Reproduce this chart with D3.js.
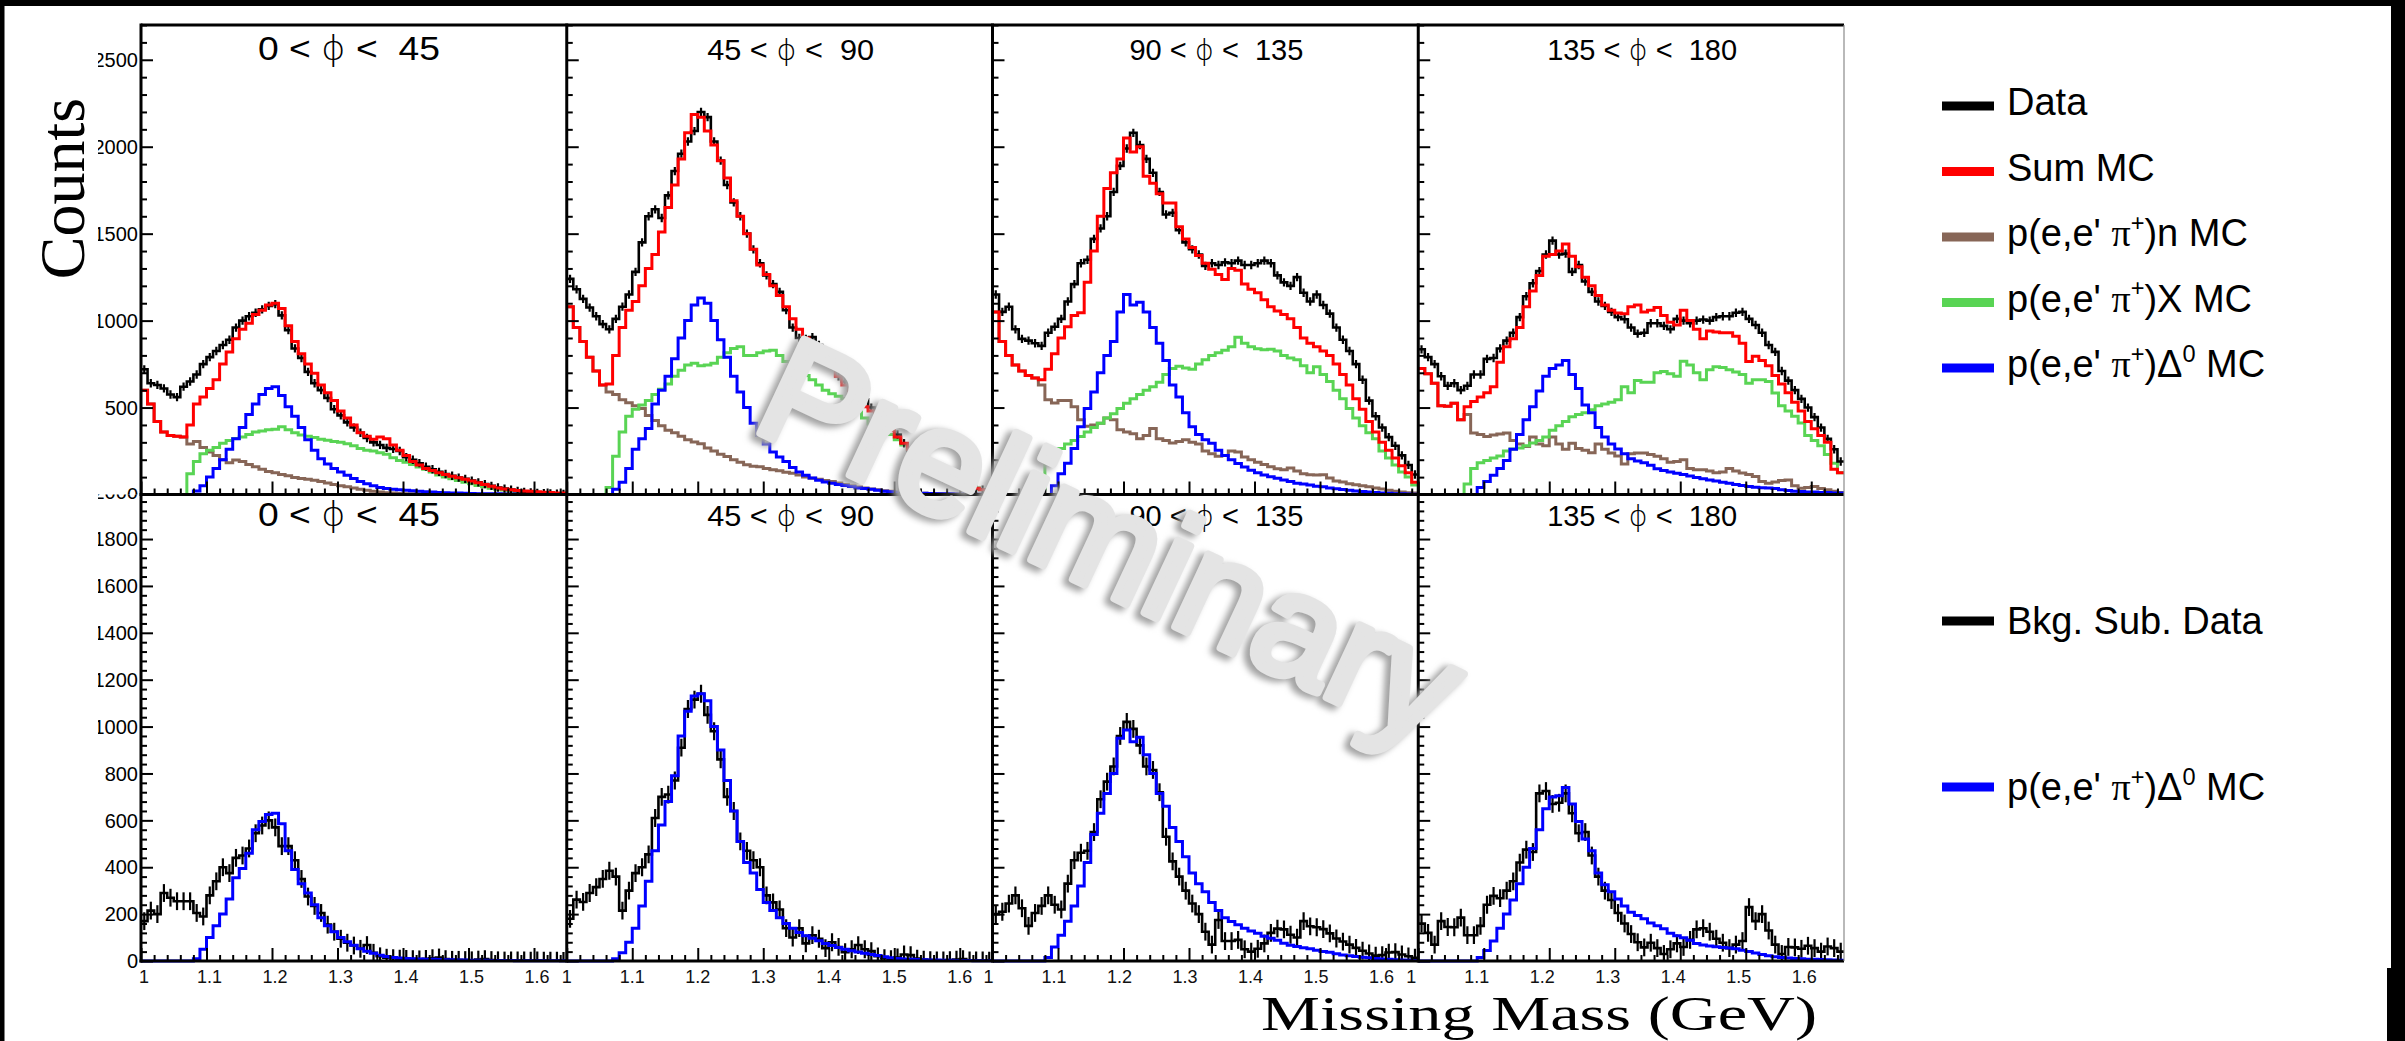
<!DOCTYPE html>
<html><head><meta charset="utf-8"><title>Missing mass in phi bins</title>
<script src="https://cdn.jsdelivr.net/npm/d3@7/dist/d3.min.js"></script>
<style>html,body{margin:0;padding:0;background:#fff;overflow:hidden}svg{display:block}text{white-space:pre}</style>
</head><body><svg id="chart" width="2405" height="1041"></svg>
<script>
// ---------------- DATA ----------------
const binLo = 1.0, binWidth = 0.01;          // 65 bins, 1.00 .. 1.65 GeV
const xDomain = [1.0, 1.65];
const yMaxTop = 2700, yMaxBottom = 1990;
const yTickLabelsTop = [0, 500, 1000, 1500, 2000, 2500];
const yTickLabelsBottom = [0, 200, 400, 600, 800, 1000, 1200, 1400, 1600, 1800, 2000];
const xTickLabels = [1, 1.1, 1.2, 1.3, 1.4, 1.5, 1.6];
const phiBins = [["0", "45"], ["45", "90"], ["90", "135"], ["135", "180"]];
const errTop = 24, errBottom = 38;

// Top row: Data
const dataTop = [
 [720,640,630,610,575,560,620,650,690,750, 790,825,860,890,960,1000,1025,1045,1065,1085, 1095,1030,945,840,785,705,640,600,555,490, 455,415,385,355,325,300,285,268,262,250, 215,200,180,160,145,130,118,108,97,90, 80,70,60,50,40,34,28,20,15,12, 9,8,6,5,4],
 [1240,1180,1125,1075,1025,980,950,1010,1080,1150, 1280,1450,1600,1640,1590,1720,1860,1960,2030,2090, 2200,2170,2030,1920,1780,1680,1600,1500,1410,1330, 1260,1210,1165,1060,960,900,895,905,860,815, 740,680,650,625,590,548,500,445,420,395, 345,295,250,215,175,150,125,95,78,62, 50,40,32,28,22],
 [1150,1050,1080,950,895,885,870,855,930,965, 1010,1110,1210,1330,1350,1470,1530,1600,1740,1890, 1990,2080,2010,1930,1850,1740,1610,1620,1520,1450, 1410,1380,1315,1330,1320,1335,1330,1345,1320,1320, 1330,1345,1330,1260,1220,1200,1250,1160,1110,1150, 1090,1040,960,890,825,750,660,540,450,385, 330,280,225,170,115],
 [835,790,750,680,625,640,600,625,690,690, 780,785,840,885,930,1020,1140,1215,1285,1380, 1460,1380,1385,1280,1320,1225,1165,1110,1085,1050, 1020,1008,960,925,930,985,985,970,950,1010, 1000,985,1000,1006,1000,1020,1025,1025,1045,1050, 1010,975,930,860,820,710,655,600,550,500, 445,385,320,260,190]
];
// Top row: Sum MC
const sumTop = [
 [600,520,420,360,340,335,330,400,520,560, 610,660,750,820,895,950,985,1035,1060,1090, 1100,1070,970,880,810,750,698,630,585,540, 480,440,400,355,335,318,330,320,285,255, 225,190,170,150,138,125,115,105,96,88, 78,68,58,48,38,32,27,23,20,18, 16,13,11,9,8],
 [1080,960,880,790,710,630,635,800,960,1060, 1110,1200,1300,1380,1510,1650,1780,1930,2080,2185, 2170,2090,2010,1920,1820,1690,1600,1500,1410,1320, 1265,1200,1145,1080,1010,950,900,850,825,800, 740,680,630,575,540,505,480,445,410,370, 330,295,260,228,195,165,138,112,95,78, 62,48,36,27,20],
 [1050,880,800,745,710,685,670,660,720,810, 900,965,1030,1045,1220,1400,1600,1760,1850,1930, 2050,1970,2000,1830,1790,1730,1677,1677,1540,1470, 1420,1375,1330,1295,1265,1236,1300,1290,1210,1180, 1160,1120,1080,1055,1035,1010,960,900,870,850, 825,800,750,690,630,550,490,420,360,300, 255,210,165,125,70],
 [725,695,640,510,507,525,430,505,535,560, 585,620,760,850,895,960,1080,1170,1260,1370, 1380,1400,1440,1370,1310,1250,1200,1145,1090,1060, 1044,1040,1080,1090,1050,1060,1075,1030,990,975, 1060,1000,950,895,940,935,930,930,910,870, 765,795,770,740,685,635,585,530,480,420, 378,340,300,145,125]
];
// Top row: p(e,e' pi+)n MC
const nTop = [
 [600,520,420,360,340,335,330,290,305,270, 245,225,200,182,198,190,172,160,145,132, 125,115,108,98,92,88,82,75,66,58, 50,44,37,30,24,18,14,10,8,6, 5,4,3,3,2,2,2,2,1,1, 1,1,1,1,1,1,1,1,1,1, 1,1,1,1,1],
 [1080,960,880,790,710,630,590,575,545,528, 510,495,455,425,395,370,355,335,315,302, 292,268,250,232,218,200,185,171,163,160, 150,142,136,128,122,112,100,94,88,80, 75,66,58,50,43,38,32,27,22,18, 15,12,10,8,7,6,5,4,3,3, 2,2,2,1,1],
 [1050,880,800,745,710,685,670,630,545,526, 540,540,505,430,392,400,410,440,430,372, 360,350,320,340,380,320,310,296,305,315, 300,290,250,235,220,225,250,245,215,200, 185,172,160,148,142,152,135,120,113,112, 113,95,78,72,62,56,50,44,38,32, 25,18,14,10,8],
 [725,695,640,510,507,525,430,460,353,345, 334,342,348,353,310,290,276,330,290,280, 330,290,260,295,265,255,240,290,260,238, 222,175,235,238,238,230,220,205,185,190, 200,150,142,142,135,125,130,150,135,123, 115,104,75,65,72,80,84,50,36,40, 46,35,27,18,12]
];
// Top row: p(e,e' pi+)X MC
const xTop = [
 [0,0,0,0,0,0,0,120,190,235, 255,270,295,310,322,330,345,360,365,372, 375,390,372,355,342,335,328,318,312,305, 300,292,280,265,255,250,240,232,212,196, 185,172,158,145,130,112,100,90,80,70, 62,52,44,36,30,26,22,18,14,10, 8,6,4,3,2],
 [0,0,0,0,0,0,40,220,360,450, 490,515,540,575,605,635,680,715,745,755, 740,745,755,790,815,840,850,800,800,815, 825,830,800,765,735,710,685,660,630,600, 580,565,550,535,490,440,405,385,362,345, 315,285,260,228,195,165,138,112,95,78, 65,50,38,28,20],
 [0,0,0,0,0,0,0,30,190,240, 265,290,310,334,360,385,410,440,465,495, 525,550,575,600,620,645,690,725,737,728, 720,750,775,800,815,830,850,905,870,850, 838,833,835,825,800,785,775,740,700,735, 690,650,600,550,495,440,395,355,320,250, 210,170,130,100,55],
 [0,0,0,0,0,0,0,60,150,182, 196,210,222,250,262,268,280,296,310,330, 370,395,420,447,460,470,487,510,520,530, 545,620,585,655,645,645,700,708,695,680, 766,745,700,660,718,735,730,718,705,690, 640,660,660,650,583,510,480,450,411,340, 310,280,230,180,125]
];
// Top row: p(e,e' pi+)Delta0 MC
const deltaTop = [
 [0,0,0,0,0,0,0,0,20,50, 100,150,200,260,320,385,460,520,575,610, 620,570,505,450,385,315,255,205,175,150, 130,110,92,75,62,50,40,35,30,27, 24,21,18,16,14,12,10,9,8,7, 6,5,5,4,4,3,3,3,2,2, 2,2,1,1,1],
 [0,0,0,0,0,0,0,30,70,150, 260,320,380,520,600,680,780,900,1000,1090, 1130,1100,1000,890,790,680,590,500,410,340, 290,245,215,190,155,130,110,95,82,72, 65,58,52,46,38,34,30,24,19,16, 13,11,9,8,7,6,5,4,4,3, 3,2,2,2,1],
 [0,0,0,0,0,0,0,0,0,50, 120,180,265,390,495,590,700,800,880,1050, 1150,1090,1105,1050,960,870,770,630,560,470, 390,345,315,295,255,225,200,178,158,140, 125,112,102,94,84,75,65,60,54,48, 44,38,33,29,25,20,17,14,12,9, 7,5,4,3,2],
 [0,0,0,0,0,0,0,0,0,40, 75,110,150,195,260,345,430,505,595,680, 725,745,770,690,610,515,470,385,330,290, 262,235,205,192,182,168,148,138,130,122, 115,106,98,90,84,78,70,65,58,52, 46,42,39,37,34,28,23,19,17,15, 14,12,11,9,8]
];
// Bottom row: Bkg. Sub. Data
const dataBottom = [
 [170,215,200,290,270,255,255,255,205,190, 280,340,400,375,440,450,480,545,578,600, 570,490,490,430,350,275,235,205,155,125, 95,78,66,52,68,35,20,14,12,10, 9,8,7,9,12,15,8,5,5,4, 3,6,8,4,3,2,3,2,2,1, 2,1,1,1,0],
 [180,262,252,290,315,350,385,360,215,300, 375,400,455,610,700,710,770,910,1075,1115, 1140,1050,980,860,700,640,510,470,430,400, 280,250,220,140,100,140,75,110,95,55, 80,60,38,50,68,50,42,20,12,8, 15,28,25,10,6,4,3,3,4,6, 8,3,2,2,1],
 [200,210,245,280,225,150,205,235,280,240, 220,330,430,462,470,550,690,765,830,960, 1020,990,920,830,815,720,530,425,360,300, 245,200,125,70,175,85,85,90,50,40, 52,75,120,138,135,112,100,170,148,144, 136,118,96,83,70,56,44,32,23,25, 36,38,28,20,14],
 [160,120,70,170,145,144,185,110,110,150, 240,278,268,300,340,420,475,465,715,725, 670,675,715,630,545,550,450,360,300,260, 205,160,115,80,58,78,55,30,50,75, 60,90,135,140,125,95,78,55,70,85, 230,170,200,130,70,30,60,58,52,65, 55,40,62,55,40]
];
// Bottom row: p(e,e' pi+)Delta0 MC
const deltaBottom = [
 [0,0,0,0,0,0,0,0,10,50, 100,150,200,265,355,395,460,560,595,625, 630,585,470,390,330,290,240,185,150,125, 100,82,67,52,42,33,25,19,15,13, 11,10,9,8,7,6,5,5,4,4, 3,3,3,2,2,2,2,1,1,1, 1,1,1,1,1],
 [0,0,0,0,0,0,0,10,35,80, 140,235,340,470,580,680,790,960,1065,1130, 1140,1110,1000,900,770,640,510,420,375,305, 250,215,185,160,140,122,108,97,86,75, 66,58,50,44,38,33,28,23,18,14, 11,9,7,6,5,4,4,3,3,2, 2,2,1,1,1],
 [0,0,0,0,0,0,0,0,15,60, 110,170,235,320,420,540,630,715,800,950, 985,935,955,880,800,715,660,570,510,445, 375,330,295,250,215,185,168,155,140,128, 118,106,97,88,76,67,62,56,52,46, 41,37,31,26,22,19,16,14,11,9, 7,5,4,3,2],
 [0,0,0,0,0,0,0,0,0,15, 45,85,140,200,260,330,400,480,560,650, 700,705,740,670,595,520,470,375,325,295, 265,235,208,194,180,162,150,138,118,108, 99,88,75,68,64,61,58,55,52,46, 40,34,28,22,18,15,13,11,10,8, 7,6,5,4,3]
];

const COL = {data: "#000000", sum: "#ff0000", n: "#876657", x: "#59d454", delta: "#0000ff"};
const legendTop = [
  {color: COL.data,  parts: [{t: "Data"}]},
  {color: COL.sum,   parts: [{t: "Sum MC"}]},
  {color: COL.n,     parts: [{t: "p(e,e' "}, {t: "π", serif: true}, {t: "+", sup: true}, {t: ")n MC"}]},
  {color: COL.x,     parts: [{t: "p(e,e' "}, {t: "π", serif: true}, {t: "+", sup: true}, {t: ")X MC"}]},
  {color: COL.delta, parts: [{t: "p(e,e' "}, {t: "π", serif: true}, {t: "+", sup: true}, {t: ")Δ"}, {t: "0", sup: true}, {t: " MC"}]}
];
const legendBottom = [
  {color: COL.data,  parts: [{t: "Bkg. Sub. Data"}]},
  {color: COL.delta, parts: [{t: "p(e,e' "}, {t: "π", serif: true}, {t: "+", sup: true}, {t: ")Δ"}, {t: "0", sup: true}, {t: " MC"}]}
];

// ---------------- LAYOUT ----------------
const W = 2405, H = 1041;
const colX = [141, 566.75, 992.5, 1418.25, 1844];
const rowY = [25, 494.5, 961];
const SANS = "'Liberation Sans', Arial, Helvetica, sans-serif";
const SERIF = "'Liberation Serif', 'Times New Roman', serif";

const svg = d3.select("#chart");
svg.append("rect").attr("width", W).attr("height", H).attr("fill", "#fff");
const defs = svg.append("defs");

for (let r = 0; r < 2; r++) for (let c = 0; c < 4; c++) {
  defs.append("clipPath").attr("id", `cp${r}${c}`).append("rect")
    .attr("x", colX[c]).attr("y", rowY[r] - 1)
    .attr("width", colX[c + 1] - colX[c]).attr("height", rowY[r + 1] - rowY[r] + 3);
}
defs.append("clipPath").attr("id", "lab0").append("rect").attr("x", 98).attr("y", 0).attr("width", 43).attr("height", rowY[1]);
defs.append("clipPath").attr("id", "lab1").append("rect").attr("x", 98).attr("y", rowY[1]).attr("width", 43).attr("height", H - rowY[1]);
const blur = defs.append("filter").attr("id", "wmblur").attr("x", "-20%").attr("y", "-20%").attr("width", "140%").attr("height", "140%");
blur.append("feGaussianBlur").attr("stdDeviation", 3);

function stepPath(x, y, vals) {
  const pts = vals.map((v, i) => [binLo + i * binWidth, v]);
  pts.push([binLo + vals.length * binWidth, vals[vals.length - 1]]);
  return d3.line().x(d => x(d[0])).y(d => y(d[1])).curve(d3.curveStepAfter)(pts);
}

const rows = [
  {ymax: yMaxTop, major: 500, minor: 100, err: errTop, labels: yTickLabelsTop, layers: [
    {vals: nTop, color: COL.n, w: 3},
    {vals: xTop, color: COL.x, w: 3},
    {vals: deltaTop, color: COL.delta, w: 3},
    {vals: dataTop, color: COL.data, w: 2.6, err: true},
    {vals: sumTop, color: COL.sum, w: 3}]},
  {ymax: yMaxBottom, major: 200, minor: 40, err: errBottom, labels: yTickLabelsBottom, layers: [
    {vals: dataBottom, color: COL.data, w: 2.6, err: true},
    {vals: deltaBottom, color: COL.delta, w: 3}]}
];

const xMajor = xTickLabels;
const xMinor = d3.range(0, 33).filter(k => k % 5 !== 0).map(k => 1 + k * 0.02).filter(v => v < 1.65);
const titleShift = [-5, 11, 11, 11];
const titleSize = [33, 29, 29, 29];
const titleLen = [182, 167, 174, 190];
const titleBase = [60, 526];
const xLabelShift = [3, 0, -4, -7];

rows.forEach((row, r) => {
  for (let c = 0; c < 4; c++) {
    const x = d3.scaleLinear().domain(xDomain).range([colX[c], colX[c + 1]]);
    const y = d3.scaleLinear().domain([0, row.ymax]).range([rowY[r + 1], rowY[r]]);
    const g = svg.append("g");
    const plot = g.append("g").attr("clip-path", `url(#cp${r}${c})`);
    row.layers.forEach(L => {
      const vals = L.vals[c];
      if (L.err) {
        plot.append("g").selectAll("line").data(vals).join("line")
          .attr("x1", (d, i) => x(binLo + (i + 0.5) * binWidth))
          .attr("x2", (d, i) => x(binLo + (i + 0.5) * binWidth))
          .attr("y1", d => y(Math.max(0, d - row.err)))
          .attr("y2", d => y(d + row.err))
          .attr("stroke", L.color).attr("stroke-width", 2.2);
      }
      plot.append("path").attr("d", stepPath(x, y, vals))
        .attr("fill", "none").attr("stroke", L.color).attr("stroke-width", L.w)
        .attr("stroke-linejoin", "miter");
    });
    // y ticks
    const yMin = d3.range(0, row.ymax + 1, row.minor).filter(v => v % row.major !== 0);
    const yMaj = d3.range(0, row.ymax + 1, row.major);
    [[yMin, -6], [yMaj, -12]].forEach(([vals, sz]) => {
      g.append("g").attr("transform", `translate(${colX[c]},0)`)
        .call(d3.axisLeft(y).tickValues(vals).tickSize(sz).tickFormat(""))
        .call(s => s.select(".domain").remove())
        .selectAll("line").attr("stroke", "#000").attr("stroke-width", 2);
    });
    // x ticks
    [[xMinor, -6], [xMajor, -13]].forEach(([vals, sz]) => {
      g.append("g").attr("transform", `translate(0,${rowY[r + 1]})`)
        .call(d3.axisBottom(x).tickValues(vals).tickSize(sz).tickFormat(""))
        .call(s => s.select(".domain").remove())
        .selectAll("line").attr("stroke", "#000").attr("stroke-width", 2);
    });
    // y labels (first column only)
    if (c === 0) {
      svg.append("g").attr("clip-path", `url(#lab${r})`)
        .selectAll("text").data(row.labels).join("text")
        .attr("x", colX[0] - 3).attr("y", d => y(d)).attr("dy", "0.36em")
        .attr("text-anchor", "end").attr("font-family", SANS).attr("font-size", 20)
        .attr("fill", "#000").text(d => d);
    }
    // x labels (bottom row)
    if (r === 1) {
      svg.append("g").selectAll("text").data(xTickLabels).join("text")
        .attr("x", d => x(d) + xLabelShift[c]).attr("y", 983)
        .attr("text-anchor", "middle").attr("font-family", SANS).attr("font-size", 18)
        .attr("fill", "#111").text(d => d3.format("~g")(d));
    }
    // title
    const t = svg.append("text")
      .attr("x", (colX[c] + colX[c + 1]) / 2 + titleShift[c]).attr("y", titleBase[r])
      .attr("text-anchor", "middle").attr("font-family", SANS).attr("font-size", titleSize[c])
      .attr("textLength", titleLen[c]).attr("lengthAdjust", "spacingAndGlyphs").attr("fill", "#000");
    t.append("tspan").text(`${phiBins[c][0]} < `);
    t.append("tspan").attr("font-family", "'DejaVu Sans', sans-serif").attr("font-weight", 300).text("ϕ");
    t.append("tspan").text(` <  ${phiBins[c][1]}`);
  }
});

// frame lines
const frame = svg.append("g").attr("stroke", "#000").attr("stroke-width", 3);
frame.append("line").attr("x1", colX[0]).attr("x2", colX[4]).attr("y1", rowY[0]).attr("y2", rowY[0]);
[rowY[1], rowY[2]].forEach(yy => frame.append("line").attr("x1", colX[0] - 1.5).attr("x2", colX[4]).attr("y1", yy).attr("y2", yy));
[0, 1, 2, 3].forEach(c => frame.append("line").attr("x1", colX[c]).attr("x2", colX[c]).attr("y1", rowY[0] - 1.5).attr("y2", rowY[2] + 1.5));
svg.append("line").attr("x1", colX[4]).attr("x2", colX[4]).attr("y1", rowY[0]).attr("y2", rowY[2])
  .attr("stroke", "#8a8a8a").attr("stroke-width", 1.2);

// axis titles
svg.append("text").attr("transform", "translate(84,188.5) rotate(-90)")
  .attr("text-anchor", "middle").attr("font-family", SERIF).attr("font-size", 64).attr("fill", "#000").text("Counts");
svg.append("text").attr("x", 1261).attr("y", 1030)
  .attr("font-family", SERIF).attr("font-size", 48).attr("textLength", 556).attr("lengthAdjust", "spacingAndGlyphs")
  .attr("fill", "#000").text("Missing Mass (GeV)");

// legends
function richText(sel, parts, fs) {
  let raised = false;
  parts.forEach(p => {
    const ts = sel.append("tspan").text(p.t);
    if (p.serif) ts.attr("font-family", SERIF);
    if (p.sup) { ts.attr("font-size", fs * 0.62).attr("dy", raised ? 0 : -fs * 0.4); raised = true; }
    else if (raised) { ts.attr("dy", fs * 0.4); raised = false; }
  });
}
function drawLegend(entries, ys, baseOff) {
  entries.forEach((e, i) => {
    svg.append("line").attr("x1", 1942).attr("x2", 1994).attr("y1", ys[i]).attr("y2", ys[i])
      .attr("stroke", e.color).attr("stroke-width", 9);
    const t = svg.append("text").attr("x", 2007).attr("y", ys[i] + baseOff)
      .attr("font-family", SANS).attr("font-size", 38).attr("fill", "#000");
    richText(t, e.parts, 38);
  });
}
drawLegend(legendTop, [106, 171.5, 237, 302.5, 368], 9);
drawLegend(legendBottom, [621, 787], 13);

// watermark
const wm = svg.append("g").attr("transform", "translate(1090,587) rotate(25)");
wm.append("text").attr("x", -4).attr("y", 5).attr("text-anchor", "middle")
  .attr("font-family", SANS).attr("font-size", 150).attr("textLength", 752).attr("lengthAdjust", "spacingAndGlyphs")
  .attr("fill", "#a2a2a2").attr("stroke", "#a2a2a2").attr("stroke-width", 9).attr("stroke-linejoin", "round")
  .attr("filter", "url(#wmblur)").text("Preliminary");
wm.append("text").attr("x", 0).attr("y", 0).attr("text-anchor", "middle")
  .attr("font-family", SANS).attr("font-size", 150).attr("textLength", 752).attr("lengthAdjust", "spacingAndGlyphs")
  .attr("fill", "#e4e4e4").attr("stroke", "#e4e4e4").attr("stroke-width", 8).attr("stroke-linejoin", "round")
  .text("Preliminary");

// page border strips
svg.append("rect").attr("x", 0).attr("y", 0).attr("width", W).attr("height", 6).attr("fill", "#000");
svg.append("rect").attr("x", 0).attr("y", 0).attr("width", 4.5).attr("height", H).attr("fill", "#000");
svg.append("rect").attr("x", 2391).attr("y", 0).attr("width", 14).attr("height", 968).attr("fill", "#000");
svg.append("rect").attr("x", 2387).attr("y", 968).attr("width", 18).attr("height", H - 968).attr("fill", "#000");
</script></body></html>
